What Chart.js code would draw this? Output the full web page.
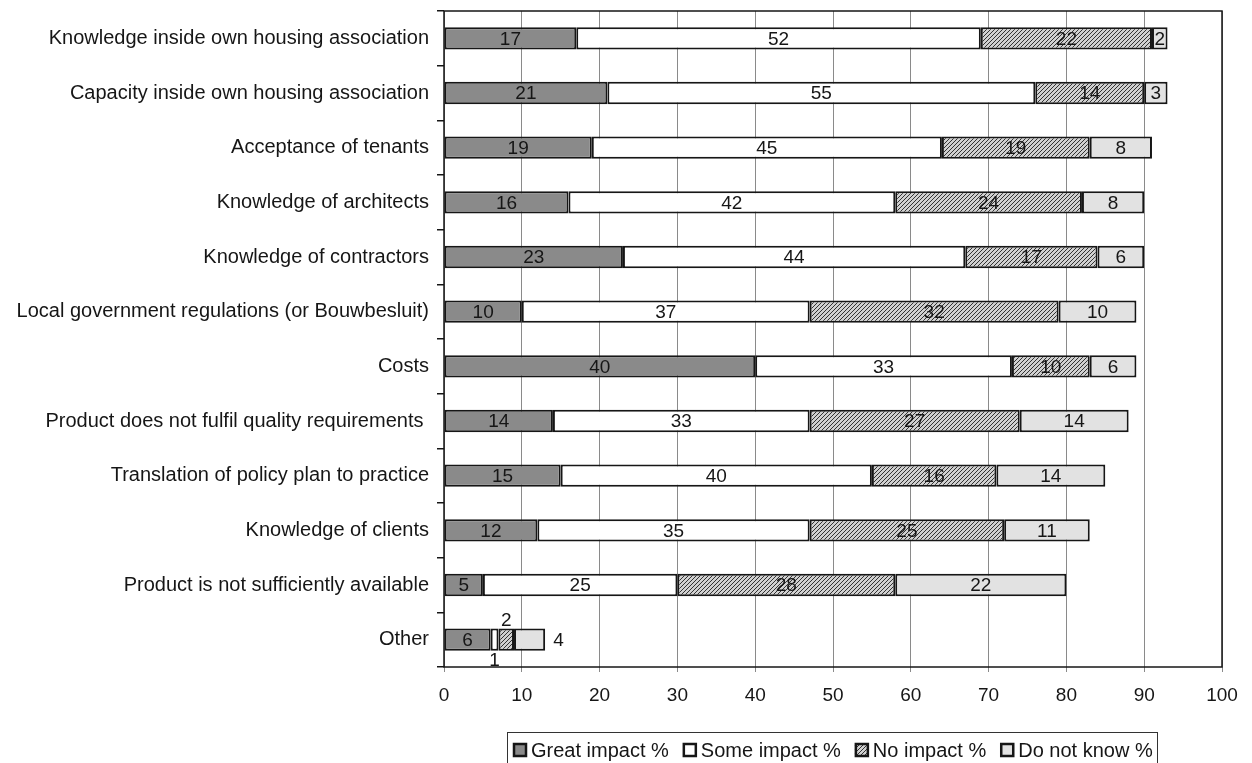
<!DOCTYPE html>
<html>
<head>
<meta charset="utf-8">
<title>Barriers to implementation</title>
<script src="https://cdn.jsdelivr.net/npm/chart.js@4.4.1/dist/chart.umd.min.js"></script>
<style>
    html, body { margin: 0; padding: 0; background: #fff; }
    canvas { display: block; }
</style>
</head>
<body>
<canvas id="impactChart" width="1252" height="763"></canvas>
<script>
// Survey results: share of respondents per barrier and impact level
const categories = [
    'Knowledge inside own housing association',
    'Capacity inside own housing association',
    'Acceptance of tenants',
    'Knowledge of architects',
    'Knowledge of contractors',
    'Local government regulations (or Bouwbesluit)',
    'Costs',
    'Product does not fulfil quality requirements ',
    'Translation of policy plan to practice',
    'Knowledge of clients',
    'Product is not sufficiently available',
    'Other'
];
const greatImpact = [17, 21, 19, 16, 23, 10, 40, 14, 15, 12, 5, 6];
const someImpact  = [52, 55, 45, 42, 44, 37, 33, 33, 40, 35, 25, 1];
const noImpact    = [22, 14, 19, 24, 17, 32, 10, 27, 16, 25, 28, 2];
const doNotKnow   = [2, 3, 8, 8, 6, 10, 6, 14, 14, 11, 22, 4];
const seriesNames = ['Great impact %', 'Some impact %', 'No impact %', 'Do not know %'];
const xTicks = [0, 10, 20, 30, 40, 50, 60, 70, 80, 90, 100];

const FONT = '"Liberation Sans", Arial, sans-serif';
const INK = '#161616';

// Diagonal hatch used for the "No impact" segments
function hatchPattern() {
    const c = document.createElement('canvas');
    c.width = 4;
    c.height = 4;
    const g = c.getContext('2d');
    g.fillStyle = '#d0d0d0';
    g.fillRect(0, 0, 4, 4);
    g.strokeStyle = '#333';
    g.lineWidth = 1;
    g.beginPath();
    g.moveTo(0, 4); g.lineTo(4, 0);
    g.moveTo(-1, 1); g.lineTo(1, -1);
    g.moveTo(3, 5); g.lineTo(5, 3);
    g.stroke();
    return g.createPattern(c, 'repeat');
}

const fills = ['#8a8a8a', '#ffffff', hatchPattern(), '#e2e2e2'];
const seriesData = [greatImpact, someImpact, noImpact, doNotKnow];

// Numbers written on the bar segments; the tiny "Other" segments get theirs outside
const valueLabels = {
    id: 'valueLabels',
    afterDatasetsDraw(chart) {
        const ctx = chart.ctx;
        ctx.save();
        ctx.font = '19px ' + FONT;
        ctx.fillStyle = INK;
        ctx.textBaseline = 'middle';
        const last = categories.length - 1;
        chart.data.datasets.forEach((ds, di) => {
            chart.getDatasetMeta(di).data.forEach((bar, i) => {
                let x = (bar.x + bar.base) / 2;
                let y = bar.y + 1;
                ctx.textAlign = 'center';
                if (i === last) {
                    if (di === 1) y += 20;
                    if (di === 2) y -= 20;
                    if (di === 3) { x = bar.x + 8; ctx.textAlign = 'left'; }
                }
                ctx.fillText(String(ds.data[i]), x, y);
            });
        });
        ctx.restore();
    }
};

// Black frame round the plot area
const plotFrame = {
    id: 'plotFrame',
    afterDraw(chart) {
        const a = chart.chartArea;
        const ctx = chart.ctx;
        ctx.save();
        ctx.strokeStyle = INK;
        ctx.lineWidth = 1.5;
        ctx.strokeRect(a.left, a.top, a.right - a.left, a.bottom - a.top);
        ctx.restore();
    }
};

// Legend in a bordered box below the axis
const boxLegend = {
    id: 'boxLegend',
    afterDraw(chart) {
        const ctx = chart.ctx;
        const left = 507, top = 732, right = 1157, cy = 750;
        const box = 14, gap = 4, spacing = 14;
        ctx.save();
        ctx.font = '20px ' + FONT;
        ctx.strokeStyle = '#333';
        ctx.lineWidth = 1;
        ctx.strokeRect(left + 0.5, top + 0.5, right - left, 60);
        let x = left + 6;
        ctx.textBaseline = 'middle';
        ctx.textAlign = 'left';
        chart.data.datasets.forEach(ds => {
            const w = ctx.measureText(ds.label).width;
            ctx.fillStyle = ds.backgroundColor;
            ctx.fillRect(x, cy - box / 2, box, box);
            ctx.strokeStyle = INK;
            ctx.lineWidth = 2.5;
            ctx.strokeRect(x + 1, cy - box / 2 + 1, box - 2, box - 2);
            ctx.fillStyle = INK;
            ctx.fillText(ds.label, x + box + gap, cy + 1);
            x += box + gap + w + spacing;
        });
        ctx.restore();
    }
};

new Chart(document.getElementById('impactChart'), {
    type: 'bar',
    data: {
        labels: categories,
        datasets: seriesNames.map((name, i) => ({
            label: name,
            data: seriesData[i],
            backgroundColor: fills[i],
            borderColor: INK,
            borderWidth: 2,
            borderSkipped: false,
            barPercentage: 0.41,
            categoryPercentage: 1
        }))
    },
    options: {
        indexAxis: 'y',
        responsive: false,
        animation: false,
        devicePixelRatio: 1,
        layout: { padding: { top: 11, right: 30, bottom: 50, left: 0 } },
        plugins: {
            legend: { display: false },
            tooltip: { enabled: false }
        },
        scales: {
            x: {
                stacked: true,
                min: 0,
                max: 100,
                afterBuildTicks: scale => { scale.ticks = xTicks.map(v => ({ value: v })); },
                afterFit: scale => { scale.height = 46; },
                ticks: { color: INK, padding: 12, font: { size: 19, family: FONT } },
                grid: { color: '#8a8a8a', lineWidth: 1, tickLength: 5 },
                border: { display: false }
            },
            y: {
                stacked: true,
                afterFit: scale => {
                    scale.width = 444;
                    // labels sit between the grid ticks, so no extra room above/below
                    scale.paddingTop = 0;
                    scale.paddingBottom = 0;
                },
                ticks: { color: INK, padding: 8, font: { size: 20, family: FONT } },
                grid: { drawOnChartArea: false, offset: true, tickLength: 7, color: INK, lineWidth: 1.5 },
                border: { display: false }
            }
        }
    },
    plugins: [valueLabels, plotFrame, boxLegend]
});
</script>
</body>
</html>
